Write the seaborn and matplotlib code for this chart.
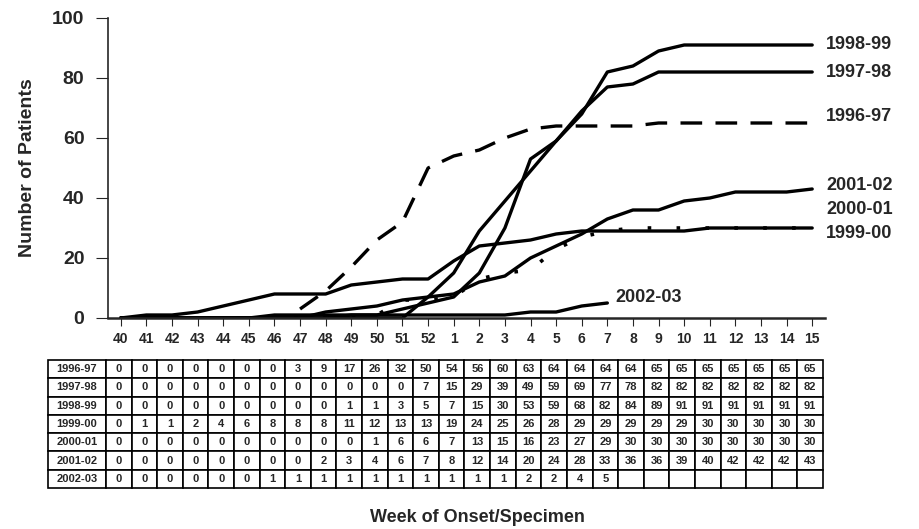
import numpy as np
import pandas as pd
import matplotlib
matplotlib.use('Agg')
import matplotlib.pyplot as plt
import seaborn as sns

# Week labels (flu season weeks 40..52 then 1..15)
weeks = ['40', '41', '42', '43', '44', '45', '46', '47', '48', '49', '50', '51', '52',
         '1', '2', '3', '4', '5', '6', '7', '8', '9', '10', '11', '12', '13', '14', '15']

# Cumulative number of patients per season
s1996 = [0, 0, 0, 0, 0, 0, 0, 3, 9, 17, 26, 32, 50,
         54, 56, 60, 63, 64, 64, 64, 64, 65, 65, 65, 65, 65, 65, 65]
s1997 = [0, 0, 0, 0, 0, 0, 0, 0, 0, 0, 0, 0, 7,
         15, 29, 39, 49, 59, 69, 77, 78, 82, 82, 82, 82, 82, 82, 82]
s1998 = [0, 0, 0, 0, 0, 0, 0, 0, 0, 1, 1, 3, 5,
         7, 15, 30, 53, 59, 68, 82, 84, 89, 91, 91, 91, 91, 91, 91]
s1999 = [0, 1, 1, 2, 4, 6, 8, 8, 8, 11, 12, 13, 13,
         19, 24, 25, 26, 28, 29, 29, 29, 29, 29, 30, 30, 30, 30, 30]
s2000 = [0, 0, 0, 0, 0, 0, 0, 0, 0, 0, 1, 6, 6,
         7, 13, 15, 16, 23, 27, 29, 30, 30, 30, 30, 30, 30, 30, 30]
s2001 = [0, 0, 0, 0, 0, 0, 0, 0, 2, 3, 4, 6, 7,
         8, 12, 14, 20, 24, 28, 33, 36, 36, 39, 40, 42, 42, 42, 43]
s2002 = [0, 0, 0, 0, 0, 0, 1, 1, 1, 1, 1, 1, 1,
         1, 1, 1, 2, 2, 4, 5, None, None, None, None, None, None, None, None]

seasons = ['1996-97', '1997-98', '1998-99', '1999-00', '2000-01', '2001-02', '2002-03']
series = [s1996, s1997, s1998, s1999, s2000, s2001, s2002]

sns.set_style('ticks')
plt.rcParams['font.family'] = ['Liberation Sans', 'DejaVu Sans']
plt.rcParams['font.weight'] = 'bold'

W, H = 919, 529
fig = plt.figure(figsize=(W / 100, H / 100), dpi=100)
ax = fig.add_axes([108 / W, 1 - 318 / H, 717 / W, 300 / H])

pos = np.arange(len(weeks))
for name, vals in zip(seasons, series):
    y = np.array([np.nan if v is None else v for v in vals], dtype=float)
    if name == '1996-97':
        # the dashed curve is only drawn once cases appear
        start = int(np.argmax(y > 0))
        sns.lineplot(x=pos[start:], y=y[start:], ax=ax, color='black', lw=2.4,
                     linestyle=(0, (6.5, 4)))
    elif name == '2000-01':
        sns.lineplot(x=pos, y=y, ax=ax, color='black', lw=2.6,
                     linestyle=(0, (1, 7)))
    else:
        sns.lineplot(x=pos, y=y, ax=ax, color='black', lw=2.4)

# labels at the line ends
end_labels = {'1998-99': 91.3, '1997-98': 81.7, '1996-97': 67.3,
              '2001-02': 44.0, '2000-01': 36.0, '1999-00': 28.3}
for lab, yv in end_labels.items():
    ax.text(27.55, yv, lab, ha='left', va='center', fontsize=13,
            fontweight='bold', clip_on=False)
ax.text(19.3, 6.7, '2002-03', ha='left', va='center', fontsize=13,
        fontweight='bold', clip_on=False)

ax.set_xlim(-0.5, 27.5)
ax.set_ylim(0, 100)
ax.set_yticks([0, 20, 40, 60, 80, 100])
ax.set_xticks(pos)
ax.set_xticklabels(weeks)
ax.tick_params(axis='y', labelsize=14, length=9, width=0.8, pad=8)
ax.tick_params(axis='x', labelsize=10, length=6, width=0.8, pad=4)
for t in ax.get_xticklabels() + ax.get_yticklabels():
    t.set_fontweight('bold')
sns.despine(ax=ax)
ax.spines['left'].set_linewidth(1.2)
ax.spines['bottom'].set_linewidth(1.8)
ax.set_ylabel('')
ax.set_xlabel('')
fig.text(28 / W, 1 - 168 / H, 'Number of Patients', rotation=90, ha='center',
         va='center', fontsize=14, fontweight='bold')

# data table below the chart
cell_text = []
for name, vals in zip(seasons, series):
    cell_text.append([name] + ['' if v is None else str(v) for v in vals])

ax_t = fig.add_axes([48 / W, 1 - 488 / H, 775 / W, 128 / H])
ax_t.axis('off')
lab_w = 58 / 775
col_w = (1 - lab_w) / len(weeks)
tbl = ax_t.table(cellText=cell_text, colWidths=[lab_w] + [col_w] * len(weeks),
                 cellLoc='center', bbox=[0, 0, 1, 1])
tbl.auto_set_font_size(False)
for (r, c), cell in tbl.get_celld().items():
    cell.set_linewidth(1.2)
    cell.set_edgecolor('black')
    cell.get_text().set_fontsize(8)
    cell.get_text().set_fontweight('bold')
    cell.PAD = 0.02

fig.text(477 / W, 1 - 518 / H, 'Week of Onset/Specimen', ha='center', va='center',
         fontsize=13, fontweight='bold')

fig.savefig('out.png', dpi=100)
